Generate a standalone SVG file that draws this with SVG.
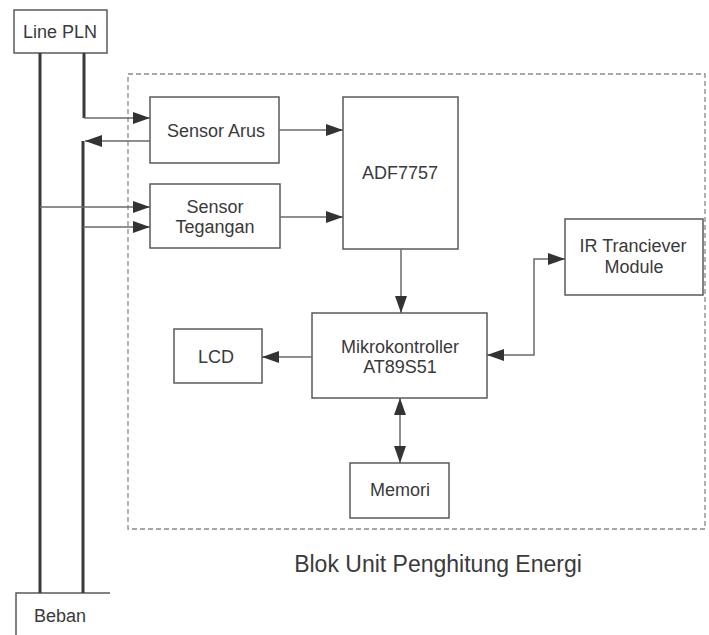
<svg xmlns="http://www.w3.org/2000/svg" width="709" height="635" viewBox="0 0 709 635">
<style>
.box{fill:none;stroke:#5a5a5a;stroke-width:1.5}
.lbl{font-family:"Liberation Sans",Arial,sans-serif;font-size:18px;fill:#3a3a3a;text-anchor:middle}
.title{font-family:"Liberation Sans",Arial,sans-serif;font-size:23px;fill:#3a3a3a;text-anchor:middle}
.power{fill:none;stroke:#3a3a3a;stroke-width:3}
.con{fill:none;stroke:#6a6a6a;stroke-width:1.5}
.frame{fill:none;stroke:#8a8a8a;stroke-width:1.3;stroke-dasharray:5 3}
</style>
<defs>
<marker id="ah" markerUnits="userSpaceOnUse" markerWidth="18" markerHeight="12" refX="17" refY="6" orient="auto-start-reverse">
<path d="M0,0 L17,6 L0,12 Z" fill="#333"/>
</marker>
</defs>
<rect class="frame" x="128" y="74" width="577" height="455"/>
<g id="line-pln"><rect class="box" x="14" y="10" width="93" height="43"/><text class="lbl" x="60" y="38">Line PLN</text></g>
<g id="beban"><path class="box" d="M16,635 V593 H110"/><text class="lbl" x="60" y="622">Beban</text></g>
<g id="sensor-arus"><rect class="box" x="150" y="97" width="129" height="66"/><text class="lbl" x="216" y="137">Sensor Arus</text></g>
<g id="sensor-tegangan"><rect class="box" x="150" y="184" width="130" height="64"/><text class="lbl" x="215" y="213">Sensor</text><text class="lbl" x="215" y="233">Tegangan</text></g>
<g id="adf7757"><rect class="box" x="343" y="97" width="115" height="152"/><text class="lbl" x="400" y="179">ADF7757</text></g>
<g id="ir-module"><rect class="box" x="565" y="219" width="138" height="76"/><text class="lbl" x="633" y="252">IR Tranciever</text><text class="lbl" x="634" y="273">Module</text></g>
<g id="mikrokontroller"><rect class="box" x="312" y="313" width="175" height="85"/><text class="lbl" x="400" y="353">Mikrokontroller</text><text class="lbl" x="400" y="373">AT89S51</text></g>
<g id="lcd"><rect class="box" x="174" y="329" width="88" height="54"/><text class="lbl" x="216" y="363">LCD</text></g>
<g id="memori"><rect class="box" x="350" y="463" width="99" height="55"/><text class="lbl" x="400" y="496">Memori</text></g>
<text class="title" x="438" y="572">Blok Unit Penghitung Energi</text>
<g id="connectors">
<path class="power" d="M40,53 V593"/>
<path class="power" d="M84,53 V118"/>
<path class="power" d="M83,141 V593"/>
<path class="con" d="M84,118 H150" marker-end="url(#ah)"/>
<path class="con" d="M150,141 H85" marker-end="url(#ah)"/>
<path class="con" d="M40,207 H150" marker-end="url(#ah)"/>
<path class="con" d="M83,227 H150" marker-end="url(#ah)"/>
<path class="con" d="M279,130 H343" marker-end="url(#ah)"/>
<path class="con" d="M280,217 H343" marker-end="url(#ah)"/>
<path class="con" d="M401,249 V313" marker-end="url(#ah)"/>
<path class="con" d="M312,357 H262" marker-end="url(#ah)"/>
<path class="con" d="M487,355 H534 V259 H565" marker-start="url(#ah)" marker-end="url(#ah)"/>
<path class="con" d="M400,398 V463" marker-start="url(#ah)" marker-end="url(#ah)"/>
</g>
</svg>
